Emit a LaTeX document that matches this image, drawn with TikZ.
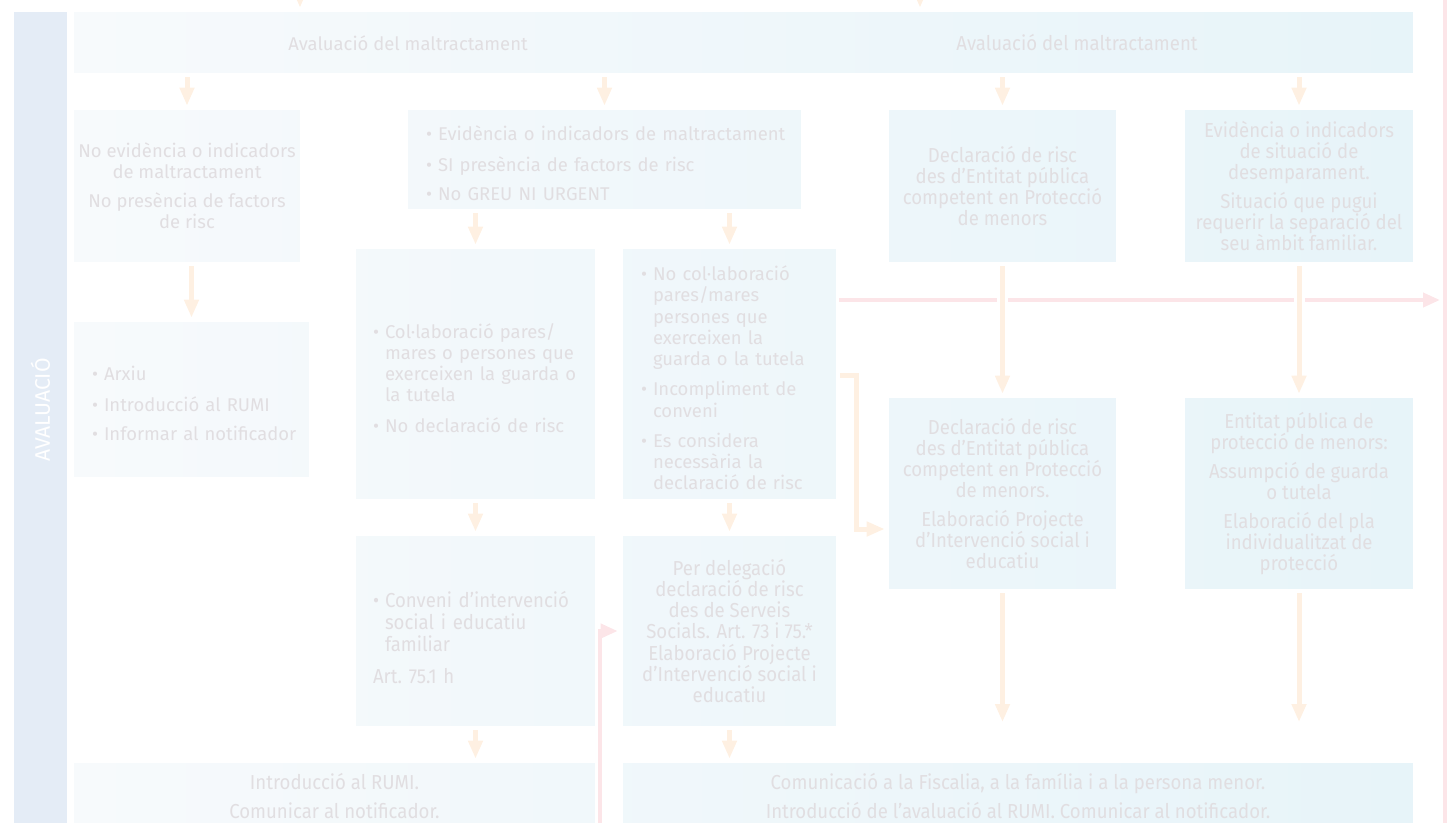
\documentclass[tikz,border=0pt]{standalone}
\usepackage{fontspec}
\setmainfont{Fira Sans}
\newfontfamily\narrowsf[FakeStretch=0.92]{Fira Sans}
\usetikzlibrary{arrows.meta,positioning}

\definecolor{bandcol}{HTML}{E4ECF6}
\definecolor{boxL}{HTML}{F7FAFC}
\definecolor{boxR}{HTML}{E7F4F9}
\definecolor{txtgray}{HTML}{E1DEE1}
\definecolor{arrcol}{HTML}{FEF0E2}
\definecolor{pinkcol}{HTML}{FCE5E8}

\newcommand{\bul}[1]{\par\noindent\makebox[0.24cm][l]{\textbullet}\begin{tabular}[t]{@{}l@{}}#1\end{tabular}\par}

\tikzset{
  box/.style 2 args={rectangle, inner sep=0pt, minimum width=#1, minimum height=#2, text=txtgray,
    font=\fontsize{10.5}{12}\selectfont\setlength{\parskip}{4.5pt}\setlength{\parindent}{0pt}},
  nbox/.style 2 args={box={#1}{#2},
    font=\narrowsf\fontsize{11.5}{12}\selectfont\setlength{\parskip}{4.5pt}\setlength{\parindent}{0pt}},
  mix/.style 2 args={left color=boxR!#1!boxL, right color=boxR!#2!boxL},
  txt/.style={text=txtgray, font=\fontsize{10.5}{12}\selectfont},
  ntxt/.style={text=txtgray, font=\narrowsf\fontsize{11.5}{12}\selectfont},
  band/.style={fill=bandcol, minimum width=1.06cm, minimum height=16.36cm, inner sep=0pt},
  bandtxt/.style={text=white, rotate=90, font=\fontsize{12}{14}\selectfont},
  arr/.style={draw=arrcol, line width=0.1cm, -{Triangle[width=0.28cm,length=0.36cm]},
    shorten <=0.08cm, shorten >=0.08cm},
  halo/.style={preaction={draw=white, line width=0.22cm, -}},
  pinkln/.style={draw=pinkcol, line width=0.08cm},
  pinkarr/.style={pinkln, -{Triangle[width=0.28cm,length=0.34cm]}, shorten <=0.06cm, shorten >=0.1cm}
}

\begin{document}
\begin{tikzpicture}[x=0.02cm, y=-0.02cm]
\clip (0,0) rectangle (1447,822);
%side band
\node[band] (band) at (40.5,421) {};
\node[bandtxt] (lbl) at (40.5,410) {AVALUACIÓ};
%first row
\node[box={26.78cm}{1.22cm}, mix={0}{100}] (top) at (743.5,42.5) {};
\node[txt] (top1) at (408,43) {Avaluació del maltractament};
\node[ntxt] (top2) at (1077,43) {Avaluació del maltractament};
%second row
\node[box={4.52cm}{3.04cm}, mix={0}{17}, align=center] (a) at (187,186)
  {No evidència o indicadors\\de maltractament\\[4.5pt]No presència de factors\\de risc};
\node[box={7.86cm}{1.98cm}, mix={25}{54}, text width=7.14cm, align=left] (b) at (604.5,159.5)
  {\bul{Evidència o indicadors de maltractament}\bul{SI presència de factors de risc}\bul{No GREU NI URGENT}};
\node[nbox={4.54cm}{3.04cm}, mix={61}{78}, align=center] (c) at (1002.5,186)
  {Declaració de risc\\des d’Entitat pública\\competent en Protecció\\de menors};
\node[nbox={4.56cm}{3.04cm}, mix={83}{100}, align=center] (d) at (1299,186)
  {Evidència o indicadors\\de situació de\\desemparament.\\[4.5pt]Situació que pugui\\requerir la separació del\\seu àmbit familiar.};
%third row
\node[box={4.70cm}{3.10cm}, mix={0}{18}, text width=3.98cm, align=left] (e) at (191.5,399.5)
  {\bul{Arxiu}\bul{Introducció al RUMI}\bul{Informar al notificador}};
\node[box={4.78cm}{5.00cm}, mix={21}{39}, text width=4.10cm, align=left] (f) at (475.5,374)
  {\bul{Col·laboració pares/\\mares o persones que\\exerceixen la guarda o\\la tutela}\bul{No declaració de risc}};
\node[box={4.26cm}{5.00cm}, mix={41}{57}, text width=3.54cm, align=left] (g) at (729.5,374)
  {\bul{No col·laboració\\pares/mares\\persones que\\exerceixen la\\guarda o la tutela}\bul{Incompliment de\\conveni}\bul{Es considera\\necessària la\\declaració de risc}};
\node[nbox={4.54cm}{3.82cm}, mix={61}{78}, align=center] (h) at (1002.5,493.5)
  {Declaració de risc\\des d’Entitat pública\\competent en Protecció\\de menors.\\[4.5pt]Elaboració Projecte\\d’Intervenció social i\\educatiu};
\node[nbox={4.56cm}{3.82cm}, mix={83}{100}, align=center] (i) at (1299,493.5)
  {Entitat pública de\\protecció de menors:\\[4.5pt]Assumpció de guarda\\o tutela\\[4.5pt]Elaboració del pla\\individualitzat de\\protecció};
%fourth row
\node[nbox={4.78cm}{3.80cm}, mix={21}{39}, text width=4.10cm, align=left] (j) at (475.5,631)
  {\bul{Conveni d’intervenció\\social i educatiu\\familiar}\noindent Art.~75.1~h};
\node[nbox={4.26cm}{3.80cm}, mix={41}{57}, align=center] (k) at (729.5,631)
  {Per delegació\\declaració de risc\\des de Serveis\\Socials. Art. 73 i 75.*\\Elaboració Projecte\\d’Intervenció social i\\educatiu};
%last row
\node[nbox={10.42cm}{1.32cm}, mix={0}{39}, align=center] (l) at (334.5,796)
  {Introducció al RUMI.\\[4.5pt]Comunicar al notificador.};
\node[nbox={15.80cm}{1.32cm}, mix={41}{100}, align=center] (m) at (1018,796)
  {Comunicació a la Fiscalia, a la família i a la persona menor.\\[4.5pt]Introducció de l’avaluació al RUMI. Comunicar al notificador.};
%free ends
\coordinate (in1) at (300,-40);
\coordinate (in2) at (920,-40);
\coordinate (rtop) at (1445,-10);
\coordinate (rbot) at (1445,840);
\coordinate (lvl) at (0,300);
\coordinate (gh) at (856,375);
\coordinate (gh2) at (0,529);
\coordinate (pk) at (600,840);
\coordinate (pkl) at (0,631);
\coordinate (hend) at (1002.5,726);
\coordinate (iend) at (1299,726);
%pink lines
\draw[pinkln] (rtop) -- (rbot);
\draw[pinkarr] (g.east |- lvl) -- (rtop |- lvl);
\draw[pinkarr] (pk) |- (k.west |- pkl);
%orange arrows
\draw[arr] (in1) -- (in1 |- top.north);
\draw[arr] (in2) -- (in2 |- top.north);
\draw[arr] (top.south -| a.north) -- (a.north);
\draw[arr] (top.south -| b.north) -- (b.north);
\draw[arr] (top.south -| c.north) -- (c.north);
\draw[arr] (top.south -| d.north) -- (d.north);
\draw[arr] (a.south -| e.north) -- (e.north);
\draw[arr] (b.south -| f.north) -- (f.north);
\draw[arr] (b.south -| g.north) -- (g.north);
\draw[arr, halo] (c.south) -- (h.north);
\draw[arr, halo] (d.south) -- (i.north);
\draw[arr] (g.east |- gh) -- (gh) -- (gh |- gh2) -- (h.west |- gh2);
\draw[arr] (f.south) -- (j.north);
\draw[arr] (g.south) -- (k.north);
\draw[arr] (h.south) -- (hend);
\draw[arr] (i.south) -- (iend);
\draw[arr] (j.south) -- (j.south |- l.north);
\draw[arr] (k.south) -- (k.south |- m.north);
\end{tikzpicture}
\end{document}
